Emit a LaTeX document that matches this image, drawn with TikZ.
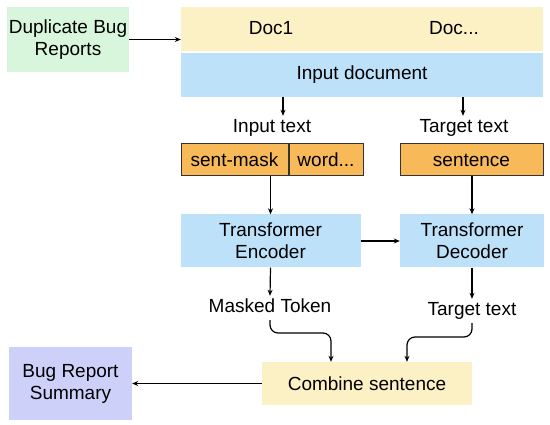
\documentclass[tikz,border=0pt]{standalone}
\usepackage{fontspec}
\setmainfont{Liberation Sans}
\usepackage{xcolor}
\usetikzlibrary{arrows.meta}
\definecolor{greenbox}{HTML}{D8F6DC}
\definecolor{yellowbox}{HTML}{FCF1C5}
\definecolor{bluebox}{HTML}{BEE1FA}
\definecolor{orangebox}{HTML}{F8BA58}
\definecolor{purplebox}{HTML}{CDD1FA}

\begin{document}
\begin{tikzpicture}[x=1pt,y=-1pt,
        font=\fontsize{19}{22}\selectfont,
        box/.style={draw=none,inner sep=0pt,align=center},
        tok/.style={draw=black!80,line width=1pt,fill=orangebox,inner sep=0pt,minimum height=32pt},
        lbl/.style={inner sep=3pt,text height=14pt,text depth=4pt},
        arr/.style={line width=1.2pt,-{Stealth[length=6pt,width=5pt]}}]
        \useasboundingbox (0,0) rectangle (550,425);
        % top row
        \node[box,fill=greenbox,minimum width=122pt,minimum height=65pt] (dup) at (68,39.5) {Duplicate Bug\\Reports};
        \node[box,fill=yellowbox,minimum width=362pt,minimum height=44pt] (docs) at (362,29) {};
        \node at (271,28) (doca) {Doc1};
        \node at (454,28) (docb) {Doc...};
        \node[box,fill=bluebox,minimum width=362pt,minimum height=44pt] (indoc) at (362,75) {Input document};
        \draw[arr] (dup.east) -- (docs.west |- dup.east);
        % inputs
        \node[lbl] (intext) at (272,128) {Input text};
        \node[lbl] (tgtext) at (464,128) {Target text};
        \draw[arr] (indoc.south -| 283,0) -- (intext.north -| 283,0);
        \draw[arr] (indoc.south -| 463,0) -- (tgtext.north -| 463,0);
        \node[tok,minimum width=107pt] (smask) at (234.5,160) {sent-mask};
        \node[tok,minimum width=74pt,anchor=west] (word) at (smask.east) {word...};
        \node[tok,minimum width=143pt] (sent) at (471.5,160) {sentence};
        % transformer
        \node[box,fill=bluebox,minimum width=180pt,minimum height=53pt] (enc) at (270.5,241) {Transformer\\Encoder};
        \node[box,fill=bluebox,minimum width=144pt,minimum height=53pt] (dec) at (472,241) {Transformer\\Decoder};
        \draw[arr] (enc.north |- smask.south) -- (enc.north);
        \draw[arr] (dec.north |- sent.south) -- (dec.north);
        \draw[arr] (enc.east) -- (dec.west);
        % outputs
        \node[lbl] (mask) at (270,308) {Masked Token};
        \node[lbl] (tgout) at (472,311) {Target text};
        \draw[arr] (enc.south) -- (mask.north);
        \draw[arr] (dec.south) -- (tgout.north);
        \node[box,fill=yellowbox,minimum width=210pt,minimum height=43pt] (comb) at (367,383.5) {Combine sentence};
        \node[box,fill=purplebox,minimum width=123pt,minimum height=73pt] (summ) at (70.5,383.5) {Bug Report\\Summary};
        \coordinate (mj) at (331,333);
        \coordinate (tj) at (407,337);
        \draw[arr,rounded corners=8pt] (mask.south) |- (mj) -- (mj |- comb.north);
        \draw[arr,rounded corners=8pt] (tgout.south) |- (tj) -- (tj |- comb.north);
        \draw[arr] (comb.west) -- (summ.east);
\end{tikzpicture}
\end{document}
